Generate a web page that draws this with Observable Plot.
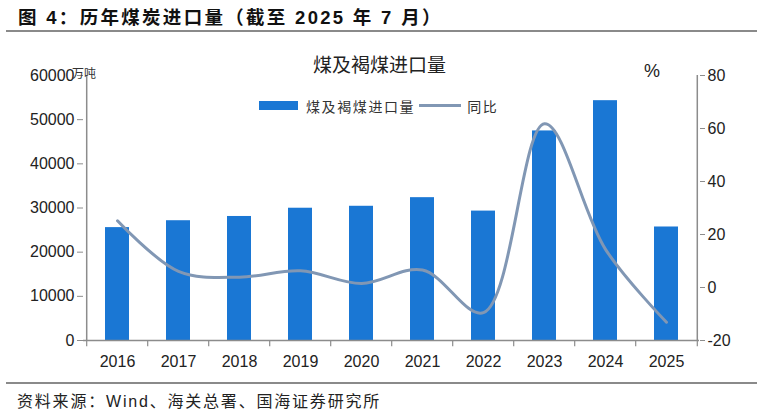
<!DOCTYPE html>
<html>
<head>
<meta charset="utf-8">
<script src="https://cdn.jsdelivr.net/npm/d3@7"></script>
<script src="https://cdn.jsdelivr.net/npm/@observablehq/plot@0.6"></script>
<style>
  html, body { margin: 0; padding: 0; background: #fff; }
  #wrap { position: relative; width: 759px; height: 413px; overflow: hidden; background: #fff; }
  #chart { position: absolute; left: 0; top: 0; }
  .abs { position: absolute; white-space: nowrap; }
  #hdr { left: 18px; top: 3px; font: bold 18.5px "Liberation Sans", "Noto Sans CJK SC", sans-serif; letter-spacing: 2.3px; color: #111; }
  .rule { position: absolute; left: 6px; width: 751px; height: 2px; background: #8a8a8a; }
  #cap { left: 17px; top: 388px; font: 16px "Liberation Sans", "Noto Sans CJK SC", sans-serif; letter-spacing: 1.8px; color: #222; }
  #ctitle { left: 313px; top: 50px; font: 19px "Noto Sans CJK SC", sans-serif; color: #222; letter-spacing: 0px; }
  #leg { left: 259px; top: 94px; font: 14px "Noto Sans CJK SC", sans-serif; color: #333; letter-spacing: 1.6px; }
  #unitL { left: 72px; top: 64px; font: 12px "Noto Sans CJK SC", sans-serif; color: #333; }
  #unitR { left: 644px; top: 61px; font: 18px "Liberation Sans", sans-serif; color: #222; }
</style>
</head>
<body>
<div id="wrap">
  <div id="chart"></div>
</div>
<script>
const years = ["2016","2017","2018","2019","2020","2021","2022","2023","2024","2025"];
const volumes = [25560, 27120, 28080, 29950, 30390, 32340, 29300, 47450, 54300, 25700];
const yoy = [25.2, 6.1, 3.9, 6.3, 1.5, 6.6, -9.5, 61.8, 14.4, -13.1];
const leftTicks = [0, 10000, 20000, 30000, 40000, 50000, 60000];
const rightTicks = [-20, 0, 20, 40, 60, 80];

const chartTitle = "煤及褐煤进口量";
const seriesBar = "煤及褐煤进口量";
const seriesLine = "同比";
const header = "图 4：历年煤炭进口量（截至 2025 年 7 月）";
const caption = "资料来源：Wind、海关总署、国海证券研究所";

const barColor = "#1a77d4";
const lineColor = "#8197b4";
const axisColor = "#8c8c8c";

// map the percentage axis (-20..80) onto the volume axis (0..60000)
const toY = v => (v + 20) * 600;
const fromY = d => Math.round(d / 600 - 20);

const rows = years.map((y, i) => ({year: y, vol: volumes[i], yoy: yoy[i], yy: toY(yoy[i])}));

const step = 61.6;
const fontFam = "Liberation Sans, Arial, sans-serif";

const plot = Plot.plot({
  width: 759,
  height: 413,
  marginTop: 75,
  marginBottom: 73,
  marginLeft: 83,
  marginRight: 60,
  style: {fontFamily: fontFam, background: "transparent", color: "#222"},
  x: {domain: years, paddingInner: 0.61, paddingOuter: 0.305, align: 0.5, label: null},
  y: {domain: [0, 60000], label: null},
  marks: [
    Plot.barY(rows, {x: "year", y: "vol", fill: barColor}),
    Plot.line(rows, {x: "year", y: "yy", stroke: lineColor, strokeWidth: 3, curve: "catmull-rom"}),
    // axis lines
    Plot.ruleY([0], {stroke: axisColor, strokeWidth: 1.5}),
    Plot.ruleX([years[0]], {y1: 0, y2: 60000, dx: -step / 2, stroke: axisColor, strokeWidth: 1.5}),
    Plot.ruleX([years[years.length - 1]], {y1: 0, y2: 60000, dx: step / 2, stroke: axisColor, strokeWidth: 1.5}),
    // category boundary ticks
    Plot.ruleX(years, {y1: 0, y2: -1400, dx: -step / 2, stroke: axisColor, strokeWidth: 1.2}),
    Plot.ruleX([years[years.length - 1]], {y1: 0, y2: -1400, dx: step / 2, stroke: axisColor, strokeWidth: 1.2}),
    Plot.axisX({tickSize: 0, tickPadding: 15, fontSize: 16, label: null}),
    Plot.axisY({anchor: "left", ticks: leftTicks, tickFormat: d => String(d), tickSize: 6, tickPadding: 3, fontSize: 16, label: null, stroke: axisColor}),
    Plot.axisY({anchor: "right", ticks: rightTicks.map(toY), tickFormat: fromY, tickSize: 5, tickPadding: 3, fontSize: 16, label: null, stroke: axisColor})
  ]
});
document.getElementById("chart").appendChild(plot);

const wrap = document.getElementById("wrap");
function addDiv(id, cls, html) {
  const d = document.createElement("div");
  if (id) d.id = id;
  d.className = cls;
  d.innerHTML = html;
  wrap.appendChild(d);
  return d;
}
addDiv("hdr", "abs", header);
const r1 = addDiv(null, "rule", ""); r1.style.top = "30px";
const r2 = addDiv(null, "rule", ""); r2.style.top = "382px";
addDiv("cap", "abs", caption);
addDiv("ctitle", "abs", chartTitle);
addDiv("unitL", "abs", "万吨");
addDiv("unitR", "abs", "%");
addDiv("leg", "abs",
  `<span style="display:inline-block;width:39px;height:9px;background:${barColor};vertical-align:middle;margin-right:8px;position:relative;top:-1px"></span>` +
  `<span style="vertical-align:middle">${seriesBar}</span>` +
  `<span style="display:inline-block;width:42px;height:3px;background:${lineColor};vertical-align:middle;margin:0 6px 0 4px;position:relative;top:-1px"></span>` +
  `<span style="vertical-align:middle">${seriesLine}</span>`);
</script>
</body>
</html>
